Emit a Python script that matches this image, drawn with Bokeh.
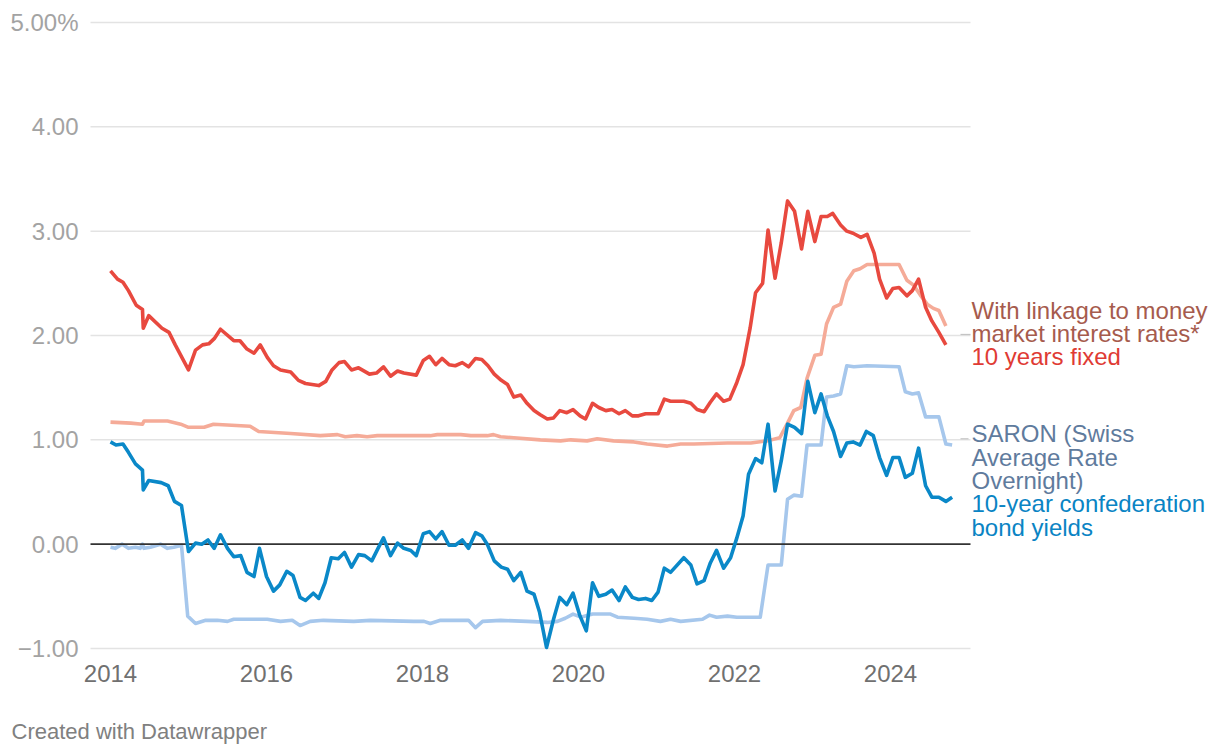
from bokeh.plotting import figure
from bokeh.models import Range1d
from bokeh.core.properties import value
from bokeh.embed import file_html
from bokeh.resources import INLINE

# ---- data (decimal years, % rates) ----
fixed_years = [2014.00, 2014.09, 2014.16, 2014.23, 2014.33, 2014.41, 2014.42, 2014.49, 2014.66, 2014.75,
               2014.83, 2015.00, 2015.09, 2015.18, 2015.26, 2015.33, 2015.41, 2015.58, 2015.66, 2015.75,
               2015.84, 2015.92, 2016.01, 2016.09, 2016.18, 2016.31, 2016.41, 2016.50, 2016.67, 2016.76,
               2016.84, 2016.93, 2017.00, 2017.09, 2017.18, 2017.32, 2017.41, 2017.50, 2017.59, 2017.68,
               2017.76, 2017.92, 2018.01, 2018.09, 2018.17, 2018.25, 2018.34, 2018.42, 2018.51, 2018.59,
               2018.68, 2018.76, 2018.84, 2018.92, 2019.01, 2019.09, 2019.17, 2019.26, 2019.34, 2019.43,
               2019.51, 2019.60, 2019.68, 2019.76, 2019.85, 2019.93, 2020.02, 2020.09, 2020.18, 2020.26,
               2020.35, 2020.43, 2020.52, 2020.60, 2020.69, 2020.77, 2020.86, 2021.02, 2021.10, 2021.18,
               2021.35, 2021.44, 2021.52, 2021.61, 2021.69, 2021.77, 2021.86, 2021.94, 2022.03, 2022.11,
               2022.20, 2022.27, 2022.36, 2022.43, 2022.52, 2022.60, 2022.68, 2022.77, 2022.86, 2022.94,
               2023.03, 2023.11, 2023.19, 2023.26, 2023.36, 2023.44, 2023.52, 2023.62, 2023.70, 2023.79,
               2023.86, 2023.95, 2024.03, 2024.11, 2024.21, 2024.28, 2024.36, 2024.45, 2024.53, 2024.62,
               2024.71]
fixed_vals = [2.62, 2.54, 2.51, 2.43, 2.29, 2.25, 2.07, 2.19, 2.07, 2.03,
              1.91, 1.67, 1.86, 1.91, 1.92, 1.97, 2.06, 1.95, 1.95, 1.87,
              1.83, 1.91, 1.79, 1.71, 1.67, 1.65, 1.57, 1.54, 1.52, 1.56,
              1.67, 1.74, 1.75, 1.67, 1.69, 1.63, 1.64, 1.70, 1.61, 1.66,
              1.64, 1.62, 1.76, 1.80, 1.72, 1.78, 1.72, 1.71, 1.74, 1.70,
              1.78, 1.77, 1.71, 1.63, 1.57, 1.53, 1.41, 1.43, 1.35, 1.28,
              1.24, 1.20, 1.21, 1.28, 1.26, 1.29, 1.23, 1.20, 1.35, 1.31,
              1.28, 1.29, 1.25, 1.28, 1.23, 1.23, 1.25, 1.25, 1.39, 1.37,
              1.37, 1.35, 1.29, 1.27, 1.36, 1.44, 1.37, 1.39, 1.55, 1.72,
              2.07, 2.41, 2.50, 3.01, 2.55, 2.89, 3.29, 3.19, 2.83, 3.19,
              2.90, 3.14, 3.14, 3.17, 3.06, 3.00, 2.98, 2.94, 2.97, 2.79,
              2.54, 2.36, 2.45, 2.46, 2.38, 2.43, 2.54, 2.27, 2.14, 2.03,
              1.91]

linked_years = [2014.00, 2014.26, 2014.41, 2014.43, 2014.73, 2014.90, 2015.00, 2015.20, 2015.32, 2015.79,
                2015.90, 2016.31, 2016.69, 2016.91, 2017.01, 2017.16, 2017.29, 2017.42, 2018.10, 2018.19,
                2018.49, 2018.62, 2018.83, 2018.91, 2019.00, 2019.17, 2019.51, 2019.77, 2019.90, 2020.11,
                2020.24, 2020.45, 2020.71, 2020.88, 2021.14, 2021.31, 2021.48, 2021.91, 2022.21, 2022.42,
                2022.58, 2022.68, 2022.76, 2022.85, 2022.93, 2023.03, 2023.11, 2023.18, 2023.27, 2023.36,
                2023.44, 2023.53, 2023.61, 2023.70, 2024.11, 2024.21, 2024.30, 2024.38, 2024.47, 2024.55,
                2024.62, 2024.71]
linked_vals = [1.17, 1.16, 1.15, 1.18, 1.18, 1.15, 1.12, 1.12, 1.15, 1.13,
               1.08, 1.06, 1.04, 1.05, 1.03, 1.04, 1.03, 1.04, 1.04, 1.05,
               1.05, 1.04, 1.04, 1.05, 1.03, 1.02, 1.00, 0.99, 1.00, 0.99,
               1.01, 0.99, 0.98, 0.96, 0.94, 0.96, 0.96, 0.97, 0.97, 0.99,
               1.02, 1.16, 1.28, 1.31, 1.59, 1.81, 1.82, 2.11, 2.27, 2.30,
               2.52, 2.62, 2.64, 2.68, 2.68, 2.53, 2.48, 2.39, 2.30, 2.26,
               2.24, 2.09]

bond_years = [2014.00, 2014.07, 2014.16, 2014.23, 2014.32, 2014.41, 2014.42, 2014.49, 2014.65, 2014.74,
              2014.82, 2014.91, 2015.00, 2015.09, 2015.17, 2015.25, 2015.33, 2015.41, 2015.50, 2015.58,
              2015.67, 2015.75, 2015.84, 2015.91, 2016.00, 2016.09, 2016.17, 2016.26, 2016.34, 2016.43,
              2016.50, 2016.60, 2016.67, 2016.75, 2016.83, 2016.92, 2017.00, 2017.09, 2017.18, 2017.26,
              2017.35, 2017.43, 2017.50, 2017.59, 2017.68, 2017.76, 2017.85, 2017.92, 2018.01, 2018.09,
              2018.17, 2018.25, 2018.34, 2018.42, 2018.51, 2018.59, 2018.68, 2018.76, 2018.83, 2018.92,
              2019.01, 2019.09, 2019.17, 2019.26, 2019.34, 2019.43, 2019.50, 2019.59, 2019.68, 2019.76,
              2019.85, 2019.93, 2020.02, 2020.10, 2020.18, 2020.26, 2020.35, 2020.43, 2020.52, 2020.60,
              2020.69, 2020.77, 2020.86, 2020.94, 2021.02, 2021.10, 2021.18, 2021.35, 2021.44, 2021.52,
              2021.61, 2021.69, 2021.77, 2021.86, 2021.95, 2022.03, 2022.11, 2022.18, 2022.27, 2022.35,
              2022.43, 2022.52, 2022.60, 2022.68, 2022.77, 2022.86, 2022.94, 2023.03, 2023.11, 2023.19,
              2023.27, 2023.36, 2023.44, 2023.52, 2023.61, 2023.69, 2023.78, 2023.86, 2023.95, 2024.03,
              2024.11, 2024.19, 2024.28, 2024.36, 2024.45, 2024.53, 2024.62, 2024.71, 2024.79]
bond_vals = [0.98, 0.95, 0.96, 0.88, 0.77, 0.71, 0.52, 0.61, 0.59, 0.56,
             0.41, 0.37, -0.07, 0.01, 0.00, 0.04, -0.04, 0.09, -0.04, -0.12,
             -0.11, -0.27, -0.31, -0.04, -0.31, -0.45, -0.39, -0.26, -0.30, -0.51,
             -0.54, -0.47, -0.52, -0.37, -0.13, -0.14, -0.08, -0.22, -0.10, -0.11,
             -0.16, -0.04, 0.06, -0.11, 0.01, -0.04, -0.06, -0.11, 0.10, 0.12,
             0.05, 0.12, -0.01, -0.01, 0.04, -0.04, 0.11, 0.08, 0.00, -0.16,
             -0.22, -0.24, -0.35, -0.27, -0.45, -0.48, -0.65, -0.99, -0.72, -0.51,
             -0.58, -0.47, -0.69, -0.83, -0.37, -0.50, -0.48, -0.44, -0.54, -0.41,
             -0.51, -0.53, -0.52, -0.54, -0.46, -0.23, -0.27, -0.13, -0.20, -0.38,
             -0.35, -0.18, -0.06, -0.23, -0.13, 0.06, 0.27, 0.67, 0.82, 0.78,
             1.15, 0.51, 0.80, 1.15, 1.12, 1.06, 1.56, 1.26, 1.44, 1.23,
             1.08, 0.84, 0.97, 0.98, 0.95, 1.08, 1.04, 0.83, 0.66, 0.83,
             0.83, 0.64, 0.68, 0.92, 0.56, 0.45, 0.45, 0.41, 0.45]

saron_years = [2014.00, 2014.06, 2014.15, 2014.23, 2014.32, 2014.38, 2014.41, 2014.43, 2014.51, 2014.64,
               2014.73, 2014.81, 2014.91, 2014.99, 2015.09, 2015.22, 2015.37, 2015.50, 2015.58, 2016.01,
               2016.18, 2016.33, 2016.43, 2016.56, 2016.73, 2017.12, 2017.33, 2017.89, 2018.02, 2018.10,
               2018.23, 2018.59, 2018.68, 2018.77, 2019.00, 2019.34, 2019.60, 2019.73, 2019.83, 2019.93,
               2020.03, 2020.18, 2020.41, 2020.50, 2020.71, 2020.88, 2021.05, 2021.18, 2021.31, 2021.59,
               2021.68, 2021.77, 2021.91, 2022.03, 2022.33, 2022.43, 2022.60, 2022.68, 2022.76, 2022.86,
               2022.93, 2023.11, 2023.18, 2023.27, 2023.36, 2023.44, 2023.53, 2023.70, 2024.11, 2024.19,
               2024.28, 2024.36, 2024.45, 2024.62, 2024.71, 2024.79]
saron_vals = [-0.03, -0.04, 0.00, -0.04, -0.03, -0.04, 0.00, -0.04, -0.03, 0.00,
              -0.04, -0.03, -0.01, -0.69, -0.76, -0.73, -0.73, -0.74, -0.72, -0.72,
              -0.74, -0.73, -0.78, -0.74, -0.73, -0.74, -0.73, -0.74, -0.74, -0.76,
              -0.73, -0.73, -0.80, -0.74, -0.73, -0.74, -0.75, -0.74, -0.71, -0.67,
              -0.70, -0.67, -0.67, -0.70, -0.71, -0.72, -0.74, -0.72, -0.74, -0.72,
              -0.68, -0.70, -0.69, -0.70, -0.70, -0.20, -0.20, 0.43, 0.47, 0.46,
              0.95, 0.95, 1.41, 1.42, 1.44, 1.71, 1.70, 1.71, 1.70, 1.46,
              1.44, 1.45, 1.22, 1.22, 0.96, 0.95]

x_ticks = [2014, 2016, 2018, 2020, 2022, 2024]
x_tick_labels = ["2014", "2016", "2018", "2020", "2022", "2024"]
y_ticks = [-1, 0, 1, 2, 3, 4, 5]
y_tick_labels = ["\u22121.00", "0.00", "1.00", "2.00", "3.00", "4.00", "5.00%"]

series_labels = [
    ["With linkage to money", "market interest rates*"],
    ["10 years fixed"],
    ["SARON (Swiss", "Average Rate", "Overnight)"],
    ["10-year confederation", "bond yields"],
]
credit = "Created with Datawrapper"

# ---- styling / layout ----
FONT = value("Liberation Sans")
C_FIXED = "#e8493f"
C_LINKED = "#f5ab98"
C_BOND = "#0a88c8"
C_SARON = "#a6c7ec"
LABEL_COLORS = ["#a65b4d", "#df3b34", "#5f7b9d", "#0a84c4"]

W, H = 1220, 756
PX_PER_YEAR = 78.0
PX_PER_UNIT = 626.0 / 6.0
X_LEFT = 2014 - 110 / PX_PER_YEAR          # canvas left edge
Y_TOP = 5 + 22 / PX_PER_UNIT               # canvas top edge
X_START = 2014 - 20 / PX_PER_YEAR          # plot area start
X_END = X_START + 880 / PX_PER_YEAR        # plot area end

p = figure(width=W, height=H, output_backend="svg", toolbar_location=None,
           x_range=Range1d(X_LEFT, X_LEFT + W / PX_PER_YEAR),
           y_range=Range1d(Y_TOP - H / PX_PER_UNIT, Y_TOP),
           min_border=0, min_border_left=0, min_border_right=0,
           min_border_top=0, min_border_bottom=0)
p.outline_line_color = None
p.background_fill_color = "white"
p.border_fill_color = "white"
p.xaxis.visible = False
p.yaxis.visible = False
p.xgrid.visible = False
p.ygrid.visible = False

# gridlines
grid_y = [t for t in y_ticks if t != 0]
p.segment(x0=[X_START] * len(grid_y), x1=[X_END] * len(grid_y), y0=grid_y, y1=grid_y,
          line_color="#e3e3e3", line_width=1.5)

# y tick labels
p.text(x=[X_START] * len(y_ticks), y=y_ticks, text=y_tick_labels, x_offset=-12,
       text_align="right", text_baseline="middle", text_font=FONT,
       text_font_size="24px", text_color="#a3a3a3")
# x tick labels
p.text(x=x_ticks, y=[y_ticks[0]] * len(x_ticks), text=x_tick_labels, y_offset=25,
       text_align="center", text_baseline="middle", text_font=FONT,
       text_font_size="24px", text_color="#707070")

# lines
LW = 3.6
p.line(saron_years, saron_vals, line_color=C_SARON, line_width=LW, line_join="round")
p.line(linked_years, linked_vals, line_color=C_LINKED, line_width=LW, line_join="round")
p.segment(x0=[X_START], x1=[X_END], y0=[0], y1=[0], line_color="#333333", line_width=1.6)
p.line(bond_years, bond_vals, line_color=C_BOND, line_width=LW, line_join="round")
p.line(fixed_years, fixed_vals, line_color=C_FIXED, line_width=LW, line_join="round")

# leader ticks to the labels
p.segment(x0=[X_END - 10 / PX_PER_YEAR, X_END - 10 / PX_PER_YEAR], x1=[X_END, X_END - 2 / PX_PER_YEAR],
          y0=[2.01, 1.01], y1=[2.01, 1.01], line_color="#c4c4c4", line_width=1.2)

# right-hand series labels (vertically centred lines)
LX = X_END + 1 / PX_PER_YEAR
STEP = 23.3 / PX_PER_UNIT
label_tops = [(543.67 - 309.7) / PX_PER_UNIT, (543.67 - 356.3) / PX_PER_UNIT,
              (543.67 - 433.4) / PX_PER_UNIT, (543.67 - 503.3) / PX_PER_UNIT]
lx, ly, lt, lc = [], [], [], []
for lines, top, col in zip(series_labels, label_tops, LABEL_COLORS):
    for i, t in enumerate(lines):
        lx.append(LX)
        ly.append(top - i * STEP)
        lt.append(t)
        lc.append(col)
p.text(x=lx, y=ly, text=lt, text_color=lc, text_font=FONT, text_font_size="24px",
       text_align="left", text_baseline="middle")

# credit
p.text(x=[X_LEFT + 11 / PX_PER_YEAR], y=[Y_TOP - 731 / PX_PER_UNIT], text=[credit],
       text_color="#808080", text_font=FONT, text_font_size="22px",
       text_align="left", text_baseline="middle")

open("out.html", "w").write(file_html(p, INLINE))
